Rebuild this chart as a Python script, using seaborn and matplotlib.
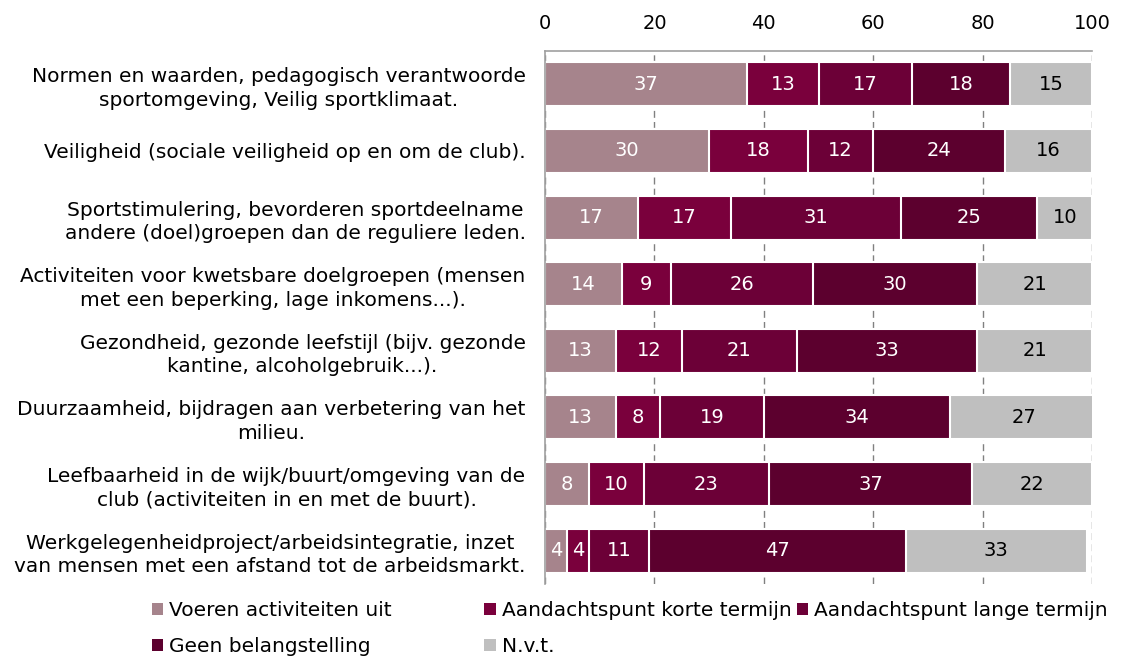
import numpy as np
import pandas as pd
import seaborn as sns
import matplotlib.pyplot as plt
from matplotlib.patches import Patch

# categories (top to bottom)
categories = [
    'Normen en waarden, pedagogisch verantwoorde\nsportomgeving, Veilig sportklimaat.',
    'Veiligheid (sociale veiligheid op en om de club).',
    'Sportstimulering, bevorderen sportdeelname\nandere (doel)groepen dan de reguliere leden.',
    'Activiteiten voor kwetsbare doelgroepen (mensen\nmet een beperking, lage inkomens...).',
    'Gezondheid, gezonde leefstijl (bijv. gezonde\nkantine, alcoholgebruik...).',
    'Duurzaamheid, bijdragen aan verbetering van het\nmilieu.',
    'Leefbaarheid in de wijk/buurt/omgeving van de\nclub (activiteiten in en met de buurt).',
    'Werkgelegenheidproject/arbeidsintegratie, inzet\nvan mensen met een afstand tot de arbeidsmarkt.',
]
series_names = ['Voeren activiteiten uit', 'Aandachtspunt korte termijn',
                'Aandachtspunt lange termijn', 'Geen belangstelling', 'N.v.t.']
voeren = [37, 30, 17, 14, 13, 13, 8, 4]
korte = [13, 18, 17, 9, 12, 8, 10, 4]
lange = [17, 12, 31, 26, 21, 19, 23, 11]
geen = [18, 24, 25, 30, 33, 34, 37, 47]
nvt = [15, 16, 10, 21, 21, 27, 22, 33]
colors = ['#a6848c', '#7a003c', '#6c0037', '#5c002e', '#bfbfbf']
text_colors = ['white', 'white', 'white', 'white', 'black']

values = np.array([voeren, korte, lange, geen, nvt])
cum = values.cumsum(axis=0)

sns.set_theme(style='white')
plt.rcParams['font.family'] = ['DejaVu Sans']

fig = plt.figure(figsize=(11.32, 6.59), dpi=100)
ax = fig.add_axes([0.4815, 0.1138, 0.4832, 0.8088])

# stacked bars: draw cumulative totals from the largest down
for i in range(len(series_names) - 1, -1, -1):
    df = pd.DataFrame({'categorie': categories, 'waarde': cum[i]})
    sns.barplot(data=df, x='waarde', y='categorie', orient='h', color=colors[i],
                width=0.66, edgecolor='white', linewidth=1.5, saturation=1, ax=ax)

# value labels in the middle of every segment
for i in range(len(series_names)):
    for j in range(len(categories)):
        mid = cum[i][j] - values[i][j] / 2
        ax.text(mid, j, str(values[i][j]), ha='center', va='center',
                color=text_colors[i], fontsize=14)

ax.set_xlim(0, 100)
ax.set_ylim(len(categories) - 0.5, -0.5)
ax.set_xticks(range(0, 101, 20))
ax.xaxis.tick_top()
ax.tick_params(axis='x', length=0, pad=13, labelsize=14, labelcolor='black')
ax.tick_params(axis='y', length=0, pad=14, labelsize=14.5, labelcolor='black')
for t in ax.get_yticklabels():
    t.set_multialignment('center')
    t.set_linespacing(1.3)
ax.set_xlabel('')
ax.set_ylabel('')

ax.set_axisbelow(True)
ax.grid(axis='x', color='#808080', linestyle=(0, (5, 3)), linewidth=1)
for side in ['right', 'bottom']:
    ax.spines[side].set_visible(False)
for side in ['top', 'left']:
    ax.spines[side].set_color('#a0a0a0')
    ax.spines[side].set_linewidth(1.2)

# legend laid out in fixed columns like the original
handles = [Patch(facecolor=c, edgecolor='none') for c in colors]
columns = [([0, 3], 0.134), ([1, 4], 0.428), ([2], 0.704)]
for idx, xpos in columns:
    fig.legend([handles[k] for k in idx], [series_names[k] for k in idx],
               loc='upper left', bbox_to_anchor=(xpos, 0.088), frameon=False,
               fontsize=14.5, labelcolor='black', handlelength=0.55, handleheight=0.55,
               handletextpad=0.3, labelspacing=0.85, borderaxespad=0, borderpad=0)

fig.savefig('out.png', dpi=100)
